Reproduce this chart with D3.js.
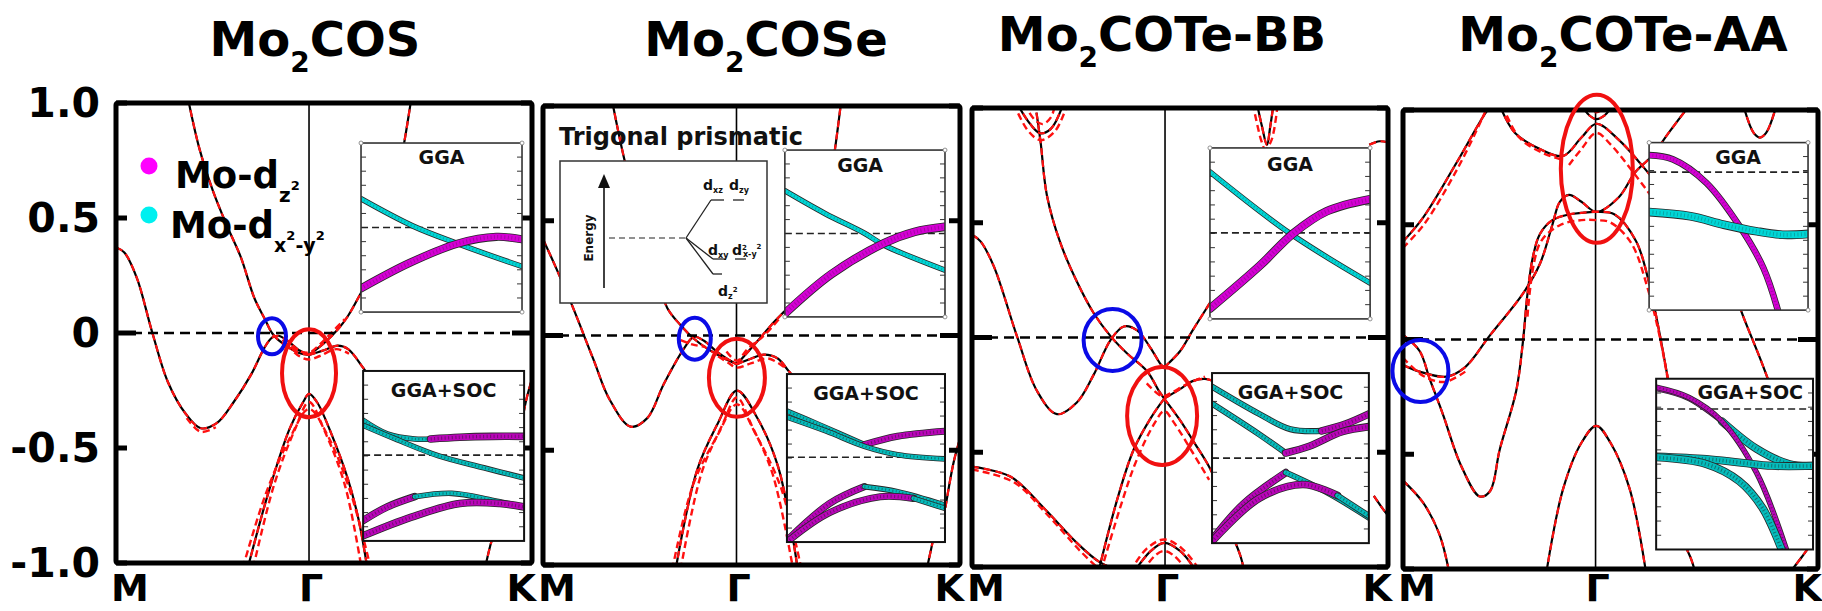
<!DOCTYPE html>
<html>
<head>
<meta charset="utf-8">
<script src="https://cdn.jsdelivr.net/npm/d3@7"></script>
<style>
  body { margin: 0; background: #fff; }
  svg { display: block; }
  text { font-family: "DejaVu Sans", sans-serif; font-weight: bold; }
</style>
</head>
<body>
<svg id="chart" width="1822" height="611"></svg>
<script>
// ---------- axis data ----------
const kFrac = [0, 0.464, 1];            // M, Gamma, K along the path (fraction)
const kNames = ["M", "Γ", "K"];
const energyTicks = [1, 0.5, 0, -0.5, -1];
const energyTickText = ["1.0", "0.5", "0", "-0.5", "-1.0"];
const compounds = ["COS", "COSe", "COTe-BB", "COTe-AA"];

// ---------- GGA bands [k, E(eV)] ----------
const cosBands = [
  [[0,.372],[.02,.35],[.05,.24],[.0875,0],[.125,-.214],[.167,-.35],[.204,-.414],[.242,-.392],[.283,-.30],[.325,-.18],[.358,-.06],[.375,-.02],[.39,-.012],[.41,-.03],[.44,-.075],[.464,-.095]],
  [[.173,1.02],[.2,.805],[.233,.618],[.267,.465],[.3,.33],[.333,.15],[.358,.06],[.375,0],[.39,-.03],[.417,-.065],[.442,-.088],[.464,-.095]],
  [[.464,-.095],[.5,-.044],[.533,.015],[.558,.075],[.592,.185],[.62,.28]],
  [[.464,-.095],[.5,-.075],[.533,-.055],[.558,-.07],[.592,-.146],[.62,-.22]],
  [[.317,-1.02],[.367,-.69],[.417,-.418],[.45,-.30],[.464,-.265],[.483,-.30],[.517,-.435],[.558,-.638],[.583,-.81],[.604,-1.02]],
  [[.683,.737],[.693,.83],[.71,1.02]],
  [[.8875,-1.02],[.908,-.876],[.93,-.8]],
  [[.965,-.5],[.985,-.3],[1,-.2]]
];
const coseBands = [
  [[0,.42],[.03,.3],[.07,.13],[.12,-.1],[.16,-.28],[.21,-.397],[.25,-.36],[.29,-.21],[.338,-.057],[.362,-.006],[.386,-.023],[.419,-.074],[.445,-.105],[.465,-.125]],
  [[.166,1.02],[.194,.776],[.24,.45],[.27,.28],[.298,.12],[.33,.045],[.362,-.014],[.394,-.057],[.435,-.1],[.465,-.125]],
  [[.465,-.125],[.515,-.023],[.547,.045],[.583,.113],[.61,.17]],
  [[.465,-.125],[.5,-.1],[.53,-.083],[.563,-.1],[.587,-.15],[.61,-.2]],
  [[.318,-1.02],[.37,-.584],[.42,-.38],[.465,-.24],[.515,-.363],[.563,-.567],[.595,-.84],[.611,-1.02]],
  [[.69,.7],[.7,.81],[.715,1.02]],
  [[.92,-1.02],[.932,-.92],[.94,-.85]],
  [[.965,-.75],[.985,-.55],[1,-.45]]
];
const coteBBBands = [
  [[.108,1.02],[.14,.93],[.164,.89],[.19,.91],[.22,1.02]],
  [[.155,.98],[.165,.85],[.18,.62],[.212,.414],[.252,.244],[.292,.108],[.333,.006],[.373,-.07],[.421,-.147],[.45,-.235],[.462,-.266]],
  [[0,.448],[.02,.42],[.052,.312],[.108,.006],[.156,-.232],[.204,-.334],[.252,-.283],[.292,-.164],[.333,-.011],[.365,.048],[.397,.031],[.429,-.045],[.455,-.12],[.462,-.13]],
  [[.462,-.13],[.5,-.06],[.53,.03],[.569,.142],[.6,.23]],
  [[.462,-.266],[.5,-.225],[.53,-.19],[.56,-.18],[.58,-.19]],
  [[.462,-.266],[.43,-.35],[.389,-.487],[.35,-.7],[.304,-1.02]],
  [[.462,-.266],[.5,-.36],[.535,-.46],[.569,-.56],[.6,-.68]],
  [[.63,-.88],[.645,-.95],[.655,-1.02]],
  [[0,-.563],[.092,-.606],[.172,-.742],[.252,-.895],[.308,-.98],[.36,-1.02]],
  [[.39,-1.02],[.43,-.93],[.462,-.895],[.5,-.93],[.54,-1.02]],
  [[.685,1.02],[.697,.92],[.709,.839],[.717,.92],[.725,1.02]],
  [[.955,.84],[.98,.855],[1,.85]],
  [[.966,-.69],[.985,-.74],[1,-.776]]
];
const coteAABands = [
  [[0,.427],[.048,.53],[.129,.77],[.2,.99],[.215,1.02]],
  [[.233,1.02],[.27,.9],[.33,.83],[.386,.80],[.43,.88],[.466,.94],[.52,.87],[.58,.75],[.62,.66]],
  [[.43,1.02],[.45,.975],[.466,.96],[.485,.975],[.505,1.02]],
  [[0,.02],[.04,-.05],[.064,-.17],[.096,-.325],[.14,-.55],[.185,-.684],[.21,-.66],[.233,-.48],[.273,-.222],[.289,-.009],[.30,.2],[.313,.36],[.33,.46],[.36,.52],[.40,.545],[.43,.552],[.466,.556],[.51,.545],[.562,.427],[.594,.239],[.61,.103],[.635,-.137],[.659,-.393],[.68,-.6]],
  [[0,-.111],[.04,-.14],[.104,-.162],[.15,-.12],[.209,.017],[.289,.2],[.33,.33],[.36,.5],[.378,.6],[.40,.63],[.43,.6],[.466,.556],[.52,.62],[.56,.73],[.6,.8],[.64,.9],[.69,1.02]],
  [[0,-.615],[.048,-.71],[.088,-.85],[.112,-1.02]],
  [[.345,-1.02],[.386,-.65],[.43,-.45],[.466,-.376],[.5,-.45],[.546,-.65],[.586,-1.02]],
  [[.8,.2],[.82,.1],[.86,-.08],[.9,-.27],[.93,-.4]],
  [[.82,1.02],[.845,.9],[.86,.88],[.875,.9],[.9,1.02]],
  [[.68,-.9],[.695,-.96],[.705,-1.02]],
  [[.93,-1.02],[.96,-.95],[.98,-.9]]
];

// ---------- GGA+SOC bands that split away from the GGA ones ----------
const cosSocSplit = [
  [[.40,-.03],[.43,-.07],[.464,-.085],[.49,-.05],[.517,0],[.55,.06]],
  [[.41,-.05],[.44,-.1],[.464,-.115],[.49,-.1],[.53,-.07],[.56,-.09]],
  [[.33,-1.02],[.38,-.66],[.43,-.42],[.464,-.30],[.5,-.42],[.55,-.66],[.59,-1.02]],
  [[.305,-1.02],[.36,-.7],[.42,-.45],[.464,-.33],[.51,-.45],[.565,-.7],[.612,-1.02]],
  [[.17,-.37],[.204,-.43],[.24,-.41]]
];
const coseSocSplit = [
  [[.42,-.09],[.445,-.12],[.465,-.14],[.5,-.12],[.54,-.1],[.58,-.14]],
  [[.44,-.07],[.465,-.11],[.49,-.06],[.53,0],[.57,.08]],
  [[.33,-1.02],[.38,-.6],[.43,-.39],[.465,-.27],[.5,-.39],[.55,-.6],[.6,-1.02]],
  [[.31,-1.02],[.36,-.65],[.42,-.43],[.465,-.3],[.51,-.43],[.57,-.66],[.62,-1.02]],
  [[.33,-.02],[.36,-.04],[.39,-.05]]
];
const coteBBSocSplit = [
  [[.1,1.02],[.135,.9],[.165,.86],[.2,.9],[.23,1.02]],
  [[.125,1.02],[.15,.95],[.17,.93],[.19,.96],[.2,1.02]],
  [[.31,-1.02],[.39,-.56],[.44,-.37],[.462,-.32],[.485,-.37],[.53,-.5],[.57,-.62]],
  [[.42,-.2],[.45,-.25],[.462,-.255],[.48,-.24],[.52,-.2],[.56,-.17]],
  [[.38,-1.02],[.42,-.92],[.462,-.88],[.505,-.92],[.55,-1.02]],
  [[.41,-1.02],[.44,-.95],[.462,-.93],[.485,-.95],[.52,-1.02]],
  [[0,-.575],[.1,-.63],[.18,-.77],[.26,-.93],[.3,-1.0]],
  [[.675,1.02],[.695,.86],[.705,.82],[.72,.86],[.735,1.02]]
];
const coteAASocSplit = [
  [[.3,.1],[.33,.42],[.38,.5],[.43,.52],[.466,.52],[.5,.51],[.55,.42],[.59,.22],[.62,0],[.65,-.3]],
  [[.40,.76],[.43,.83],[.466,.9],[.5,.85],[.55,.74],[.6,.62]],
  [[.44,1.02],[.466,.99],[.49,1.02]],
  [[0,-.08],[.05,-.16],[.1,-.185],[.15,-.14]],
  [[0,.4],[.05,.5],[.13,.74],[.19,.96],[.205,1.02]],
  [[.24,1.02],[.28,.88],[.34,.81],[.39,.78]]
];

// ---------- orbital-projected zooms [u, relative energy] ----------
const cosGgaInset = [
  {orb:"x2y2", pts:[[0,.67],[.32,.51],[.6,.405],[1,.27]]},
  {orb:"z2",   pts:[[0,.14],[.3,.29],[.6,.405],[.84,.445],[1,.43]]}
];
const cosSocInset = [
  {orb:"x2y2", pts:[[0,.71],[.15,.63],[.32,.6],[.42,.6]]},
  {orb:"z2",   pts:[[.42,.6],[.6,.61],[.8,.615],[1,.615]]},
  {orb:"x2y2", pts:[[0,.68],[.2,.6],[.47,.5],[.75,.43],[1,.37]]},
  {orb:"z2",   pts:[[0,.12],[.15,.2],[.32,.26]]},
  {orb:"x2y2", pts:[[.32,.26],[.55,.28],[.8,.24],[1,.2]]},
  {orb:"z2",   pts:[[0,.03],[.3,.14],[.6,.22],[.85,.22],[1,.2]]}
];
const coseGgaInset = [
  {orb:"x2y2", pts:[[0,.756],[.25,.62],[.5,.5],[.62,.43],[1,.28]]},
  {orb:"z2",   pts:[[0,.02],[.29,.256],[.62,.442],[.81,.51],[1,.54]]}
];
const coseSocInset = [
  {orb:"x2y2", pts:[[0,.78],[.2,.7],[.49,.58]]},
  {orb:"z2",   pts:[[.49,.58],[.7,.63],[1,.66]]},
  {orb:"x2y2", pts:[[0,.744],[.25,.66],[.49,.57],[.7,.52],[1,.495]]},
  {orb:"z2",   pts:[[0,.01],[.27,.23],[.49,.33]]},
  {orb:"x2y2", pts:[[.49,.33],[.7,.30],[1,.22]]},
  {orb:"z2",   pts:[[0,0],[.27,.175],[.59,.27],[.8,.26]]},
  {orb:"x2y2", pts:[[.8,.26],[1,.2]]}
];
const coteBBGgaInset = [
  {orb:"x2y2", pts:[[0,.86],[.5,.5],[1,.21]]},
  {orb:"z2",   pts:[[0,.06],[.31,.31],[.52,.5],[.73,.63],[1,.70]]}
];
const coteBBSocInset = [
  {orb:"x2y2", pts:[[0,.92],[.3,.76],[.5,.67],[.7,.66]]},
  {orb:"z2",   pts:[[.7,.66],[.85,.70],[1,.76]]},
  {orb:"x2y2", pts:[[0,.82],[.3,.64],[.47,.53]]},
  {orb:"z2",   pts:[[.47,.53],[.62,.57],[.83,.655],[1,.685]]},
  {orb:"z2",   pts:[[0,.02],[.2,.23],[.47,.415]]},
  {orb:"x2y2", pts:[[.47,.415],[.73,.30],[1,.15]]},
  {orb:"z2",   pts:[[0,.01],[.3,.263],[.58,.345],[.8,.28]]},
  {orb:"x2y2", pts:[[.8,.28],[1,.16]]}
];
const coteAAGgaInset = [
  {orb:"z2",   pts:[[0,.925],[.15,.9],[.36,.76],[.57,.5],[.72,.25],[.81,0]]},
  {orb:"x2y2", pts:[[0,.585],[.26,.56],[.47,.51],[.68,.47],[.84,.45],[1,.455]]}
];
const coteAASocInset = [
  {orb:"z2",   pts:[[0,.943],[.21,.885],[.42,.75]]},
  {orb:"x2y2", pts:[[.42,.75],[.64,.59],[.85,.5],[1,.49]]},
  {orb:"z2",   pts:[[0,.95],[.21,.89],[.42,.75],[.64,.45],[.83,0]]},
  {orb:"x2y2", pts:[[0,.545],[.32,.53],[.53,.51],[.74,.49],[1,.49]]},
  {orb:"x2y2", pts:[[0,.54],[.32,.5],[.53,.4],[.68,.24],[.8,0]]}
];
const insetFermi = [[.5,.505],[.5,.505],[.503,.5],[.824,.823]];   // [GGA, GGA+SOC]

// highlighted crossings [k, E]
const blueMarks = [[.375,-.014],[.364,-.014],[.338,-.011],[.042,-.137]];
const redMarks  = [[.464,-.175],[.465,-.184],[.457,-.342],[.467,.744]];

// ---------- layout ----------
const panels = [
  {x0:116, x1:532, y0:103, y1:563},
  {x0:543, x1:960, y0:106, y1:565},
  {x0:972, x1:1388, y0:108, y1:567},
  {x0:1403, x1:1818, y0:110, y1:569}
];
const titleX = [315, 766, 1162, 1623];
const titleY = [56, 56, 51, 51];
// inset extents in panel coordinates [k0, k1, Etop, Ebottom]
const insetBoxes = [
  {gga:[.589,.976,.826,.091], soc:[.594,.981,-.165,-.904]},
  {gga:[.58,.964,.808,.081],  soc:[.585,.964,-.168,-.9]},
  {gga:[.572,.957,.826,.081], soc:[.577,.954,-.155,-.896]},
  {gga:[.593,.976,.858,.128], soc:[.61,.988,-.171,-.915]}
];
const labelPos = [
  {gga:[.5,21], soc:[.5,26]}, {gga:[.47,22], soc:[.5,26]},
  {gga:[.5,23], soc:[.5,26]}, {gga:[.56,21], soc:[.6,20]}
];
const blueR = [[14,18],[16,21],[29,31],[28,31]];
const redR  = [[27,44],[28,39],[35,49],[36,74]];
const orbColor = {z2:"#d400d4", x2y2:"#00d6d6"};
const ggaW = [{z2:6.5,x2y2:4},{z2:7,x2y2:4},{z2:7,x2y2:4},{z2:5,x2y2:7}];
const socW = [{z2:6,x2y2:4},{z2:5.5,x2y2:4},{z2:6,x2y2:4.5},{z2:4,x2y2:6.5}];

const allBands = [cosBands, coseBands, coteBBBands, coteAABands];
const allSplit = [cosSocSplit, coseSocSplit, coteBBSocSplit, coteAASocSplit];
const allGgaInsets = [cosGgaInset, coseGgaInset, coteBBGgaInset, coteAAGgaInset];
const allSocInsets = [cosSocInset, coseSocInset, coteBBSocInset, coteAASocInset];

const svg = d3.select("#chart");
const defs = svg.append("defs");

function drawInset(g, P, box, bands, fermi, label, lp, widths, isSoc, id) {
  const bx0 = P.x(box[0]), bx1 = P.x(box[1]);
  const by0 = P.y(box[2]), by1 = P.y(box[3]);
  const u = d3.scaleLinear().domain([0,1]).range([bx0, bx1]);
  const r = d3.scaleLinear().domain([0,1]).range([by1, by0]);
  defs.append("clipPath").attr("id", id).append("rect")
    .attr("x", bx0).attr("y", by0).attr("width", bx1 - bx0).attr("height", by1 - by0);
  g.append("rect").attr("x", bx0).attr("y", by0).attr("width", bx1 - bx0).attr("height", by1 - by0)
    .attr("fill", "#fff");
  // inward ticks on both sides
  const tv = d3.range(1, 12).map(i => i / 12);
  g.selectAll(null).data(tv).join("line")
    .attr("x1", bx0).attr("x2", bx0 + 5).attr("y1", d => r(d)).attr("y2", d => r(d))
    .attr("stroke", "#333").attr("stroke-width", 1);
  g.selectAll(null).data(tv).join("line")
    .attr("x1", bx1 - 5).attr("x2", bx1).attr("y1", d => r(d)).attr("y2", d => r(d))
    .attr("stroke", "#333").attr("stroke-width", 1);
  g.append("line").attr("x1", bx0).attr("x2", bx1).attr("y1", r(fermi)).attr("y2", r(fermi))
    .attr("stroke", "#222").attr("stroke-width", 1.6).attr("stroke-dasharray", "7,4");
  const bg = g.append("g").attr("clip-path", `url(#${id})`);
  const ln = d3.line().x(d => u(d[0])).y(d => r(d[1])).curve(d3.curveCatmullRom.alpha(0.5));
  bands.forEach(b => {
    const w = widths[b.orb];
    bg.append("path").attr("d", ln(b.pts)).attr("fill", "none")
      .attr("stroke", "#262626").attr("stroke-width", w + 1.6).attr("stroke-linecap", "round");
    bg.append("path").attr("d", ln(b.pts)).attr("fill", "none")
      .attr("stroke", orbColor[b.orb]).attr("stroke-width", w).attr("stroke-linecap", "round")
      .attr("opacity", isSoc ? 0.85 : 1);
    bg.append("path").attr("d", ln(b.pts)).attr("fill", "none")
      .attr("stroke", "#1a1a1a").attr("stroke-width", Math.max(1, w * 0.55))
      .attr("stroke-dasharray", "1,2.5").attr("opacity", isSoc ? 0.45 : 0.25);
  });
  g.append("rect").attr("x", bx0).attr("y", by0).attr("width", bx1 - bx0).attr("height", by1 - by0)
    .attr("fill", "none").attr("stroke", isSoc ? "#111" : "#333").attr("stroke-width", isSoc ? 2 : 1.6);
  if (!isSoc) {
    [[bx0,by0],[bx1,by0],[bx0,by1],[bx1,by1]].forEach(c => {
      g.append("circle").attr("cx", c[0]).attr("cy", c[1]).attr("r", 2)
        .attr("fill", "#fff").attr("stroke", "#777").attr("stroke-width", 0.8);
    });
  }
  g.append("text").attr("x", u(lp[0])).attr("y", by0 + lp[1]).attr("text-anchor", "middle")
    .attr("font-size", 19).attr("fill", "#111").text(label);
}

panels.forEach((P, i) => {
  P.x = d3.scaleLinear().domain([0, 1]).range([P.x0, P.x1]);
  P.y = d3.scaleLinear().domain([-1, 1]).range([P.y1, P.y0]);
  const g = svg.append("g");
  const cid = "clip" + i;
  defs.append("clipPath").attr("id", cid).append("rect")
    .attr("x", P.x0).attr("y", P.y0).attr("width", P.x1 - P.x0).attr("height", P.y1 - P.y0);

  const ln = d3.line().x(d => P.x(d[0])).y(d => P.y(d[1])).curve(d3.curveCatmullRom.alpha(0.5));
  const bandG = g.append("g").attr("clip-path", `url(#${cid})`);

  // Gamma line
  bandG.append("line").attr("x1", P.x(kFrac[1])).attr("x2", P.x(kFrac[1]))
    .attr("y1", P.y0).attr("y2", P.y1).attr("stroke", "#000").attr("stroke-width", 1.6);

  // GGA (solid black) with GGA+SOC (red dashed) on top
  allBands[i].forEach(b => bandG.append("path").attr("d", ln(b)).attr("fill", "none")
    .attr("stroke", "#000").attr("stroke-width", 2.2));
  allBands[i].forEach(b => bandG.append("path").attr("d", ln(b)).attr("fill", "none")
    .attr("stroke", "#ff1010").attr("stroke-width", 2.2).attr("stroke-dasharray", "7,5"));
  allSplit[i].forEach(b => bandG.append("path").attr("d", ln(b)).attr("fill", "none")
    .attr("stroke", "#ff1010").attr("stroke-width", 2.4).attr("stroke-dasharray", "7,4"));

  // Fermi level
  g.append("line").attr("x1", P.x0).attr("x2", P.x1).attr("y1", P.y(0)).attr("y2", P.y(0))
    .attr("stroke", "#000").attr("stroke-width", 2.5).attr("stroke-dasharray", "10,6");

  // inward energy ticks on both sides
  energyTicks.forEach(e => {
    const len = e === 0 ? 20 : 11;
    g.append("line").attr("x1", P.x0).attr("x2", P.x0 + len).attr("y1", P.y(e)).attr("y2", P.y(e))
      .attr("stroke", "#000").attr("stroke-width", 5);
    g.append("line").attr("x1", P.x1 - len).attr("x2", P.x1).attr("y1", P.y(e)).attr("y2", P.y(e))
      .attr("stroke", "#000").attr("stroke-width", 5);
  });

  // orbital-projected zooms
  drawInset(g, P, insetBoxes[i].gga, allGgaInsets[i], insetFermi[i][0], "GGA", labelPos[i].gga, ggaW[i], false, "ig" + i);
  drawInset(g, P, insetBoxes[i].soc, allSocInsets[i], insetFermi[i][1], "GGA+SOC", labelPos[i].soc, socW[i], true, "is" + i);

  // frame
  g.append("rect").attr("x", P.x0).attr("y", P.y0).attr("width", P.x1 - P.x0).attr("height", P.y1 - P.y0)
    .attr("fill", "none").attr("stroke", "#000").attr("stroke-width", 5).attr("rx", 2);

  // highlighted crossings
  g.append("ellipse").attr("cx", P.x(blueMarks[i][0])).attr("cy", P.y(blueMarks[i][1]))
    .attr("rx", blueR[i][0]).attr("ry", blueR[i][1])
    .attr("fill", "none").attr("stroke", "#0a0ae6").attr("stroke-width", 4);
  g.append("ellipse").attr("cx", P.x(redMarks[i][0])).attr("cy", P.y(redMarks[i][1]))
    .attr("rx", redR[i][0]).attr("ry", redR[i][1])
    .attr("fill", "none").attr("stroke", "#f01010").attr("stroke-width", 4);

  // title
  const t = svg.append("text").attr("x", titleX[i]).attr("y", titleY[i]).attr("text-anchor", "middle")
    .attr("font-size", 48).attr("fill", "#000");
  t.append("tspan").text("Mo");
  t.append("tspan").attr("font-size", 28).attr("dy", 16).text("2");
  t.append("tspan").attr("dy", -16).text(compounds[i]);

  // k-point labels
  const kx = [P.x0 - 5, P.x(kFrac[1]) + 2, P.x1 + 4];
  const anchor = ["start", "middle", "end"];
  kNames.forEach((n, j) => {
    svg.append("text").attr("x", kx[j]).attr("y", 601).attr("text-anchor", anchor[j])
      .attr("font-size", 38).attr("fill", "#000").text(n);
  });
});

// energy axis labels (first panel)
const P0 = panels[0];
energyTicks.forEach((e, j) => {
  svg.append("text").attr("x", 100).attr("y", P0.y(e)).attr("text-anchor", "end")
    .attr("dominant-baseline", "central").attr("font-size", 41).attr("fill", "#000")
    .text(energyTickText[j]);
});

// orbital legend
const leg = svg.append("g");
leg.append("circle").attr("cx", 149).attr("cy", 166).attr("r", 8.5).attr("fill", "#ff00ff");
leg.append("circle").attr("cx", 149).attr("cy", 215).attr("r", 8.5).attr("fill", "#00f0f0");
const l1 = leg.append("text").attr("x", 175).attr("y", 188).attr("font-size", 37).attr("fill", "#000");
l1.append("tspan").text("Mo-d");
l1.append("tspan").attr("font-size", 20).attr("dy", 14).text("z");
l1.append("tspan").attr("font-size", 13).attr("dy", -12).text("2");
const l2 = leg.append("text").attr("x", 170).attr("y", 238).attr("font-size", 37).attr("fill", "#000");
l2.append("tspan").text("Mo-d");
l2.append("tspan").attr("font-size", 19).attr("dy", 14).text("x");
l2.append("tspan").attr("font-size", 13).attr("dy", -12).text("2");
l2.append("tspan").attr("font-size", 19).attr("dy", 12).text("-y");
l2.append("tspan").attr("font-size", 13).attr("dy", -12).text("2");

// crystal-field splitting sketch (second panel)
const dg = svg.append("g");
dg.append("text").attr("x", 559).attr("y", 145).attr("font-size", 24).attr("fill", "#111").text("Trigonal prismatic");
dg.append("rect").attr("x", 560).attr("y", 161).attr("width", 207).attr("height", 142)
  .attr("fill", "#fff").attr("stroke", "#333").attr("stroke-width", 1.5);
dg.append("line").attr("x1", 604).attr("x2", 604).attr("y1", 288).attr("y2", 186)
  .attr("stroke", "#111").attr("stroke-width", 1.6);
dg.append("path").attr("d", "M598,188 L604,174 L610,188 Z").attr("fill", "#111");
dg.append("text").attr("transform", "translate(593,238) rotate(-90)").attr("text-anchor", "middle")
  .attr("font-size", 12).attr("fill", "#111").text("Energy");
dg.append("line").attr("x1", 609).attr("x2", 686).attr("y1", 238).attr("y2", 238)
  .attr("stroke", "#222").attr("stroke-width", 1.2).attr("stroke-dasharray", "6,4");
[[711,200],[713,259],[713,274]].forEach(p => dg.append("line").attr("x1", 686).attr("y1", 238)
  .attr("x2", p[0]).attr("y2", p[1]).attr("stroke", "#222").attr("stroke-width", 1.3));
[[711,724,200],[733,744,200],[713,726,259],[735,746,259],[713,722,274]].forEach(s =>
  dg.append("line").attr("x1", s[0]).attr("x2", s[1]).attr("y1", s[2]).attr("y2", s[2])
    .attr("stroke", "#222").attr("stroke-width", 1.3));
function orbLabel(x, y, sub, sup) {
  const t = dg.append("text").attr("x", x).attr("y", y).attr("font-size", 14).attr("fill", "#111");
  t.append("tspan").text("d");
  t.append("tspan").attr("font-size", 8).attr("dy", 3).text(sub);
  if (sup) t.append("tspan").attr("font-size", 7).attr("dy", -7).text(sup);
}
orbLabel(703, 190, "xz");
orbLabel(729, 190, "zy");
orbLabel(708, 255, "xy");
const dx = dg.append("text").attr("x", 732).attr("y", 255).attr("font-size", 14).attr("fill", "#111");
dx.append("tspan").text("d");
dx.append("tspan").attr("font-size", 7).attr("dy", -5).text("2");
dx.append("tspan").attr("font-size", 8).attr("dy", 7).attr("dx", -4).text("x-y");
dx.append("tspan").attr("font-size", 7).attr("dy", -8).text("2");
orbLabel(718, 296, "z", "2");
</script>
</body>
</html>
